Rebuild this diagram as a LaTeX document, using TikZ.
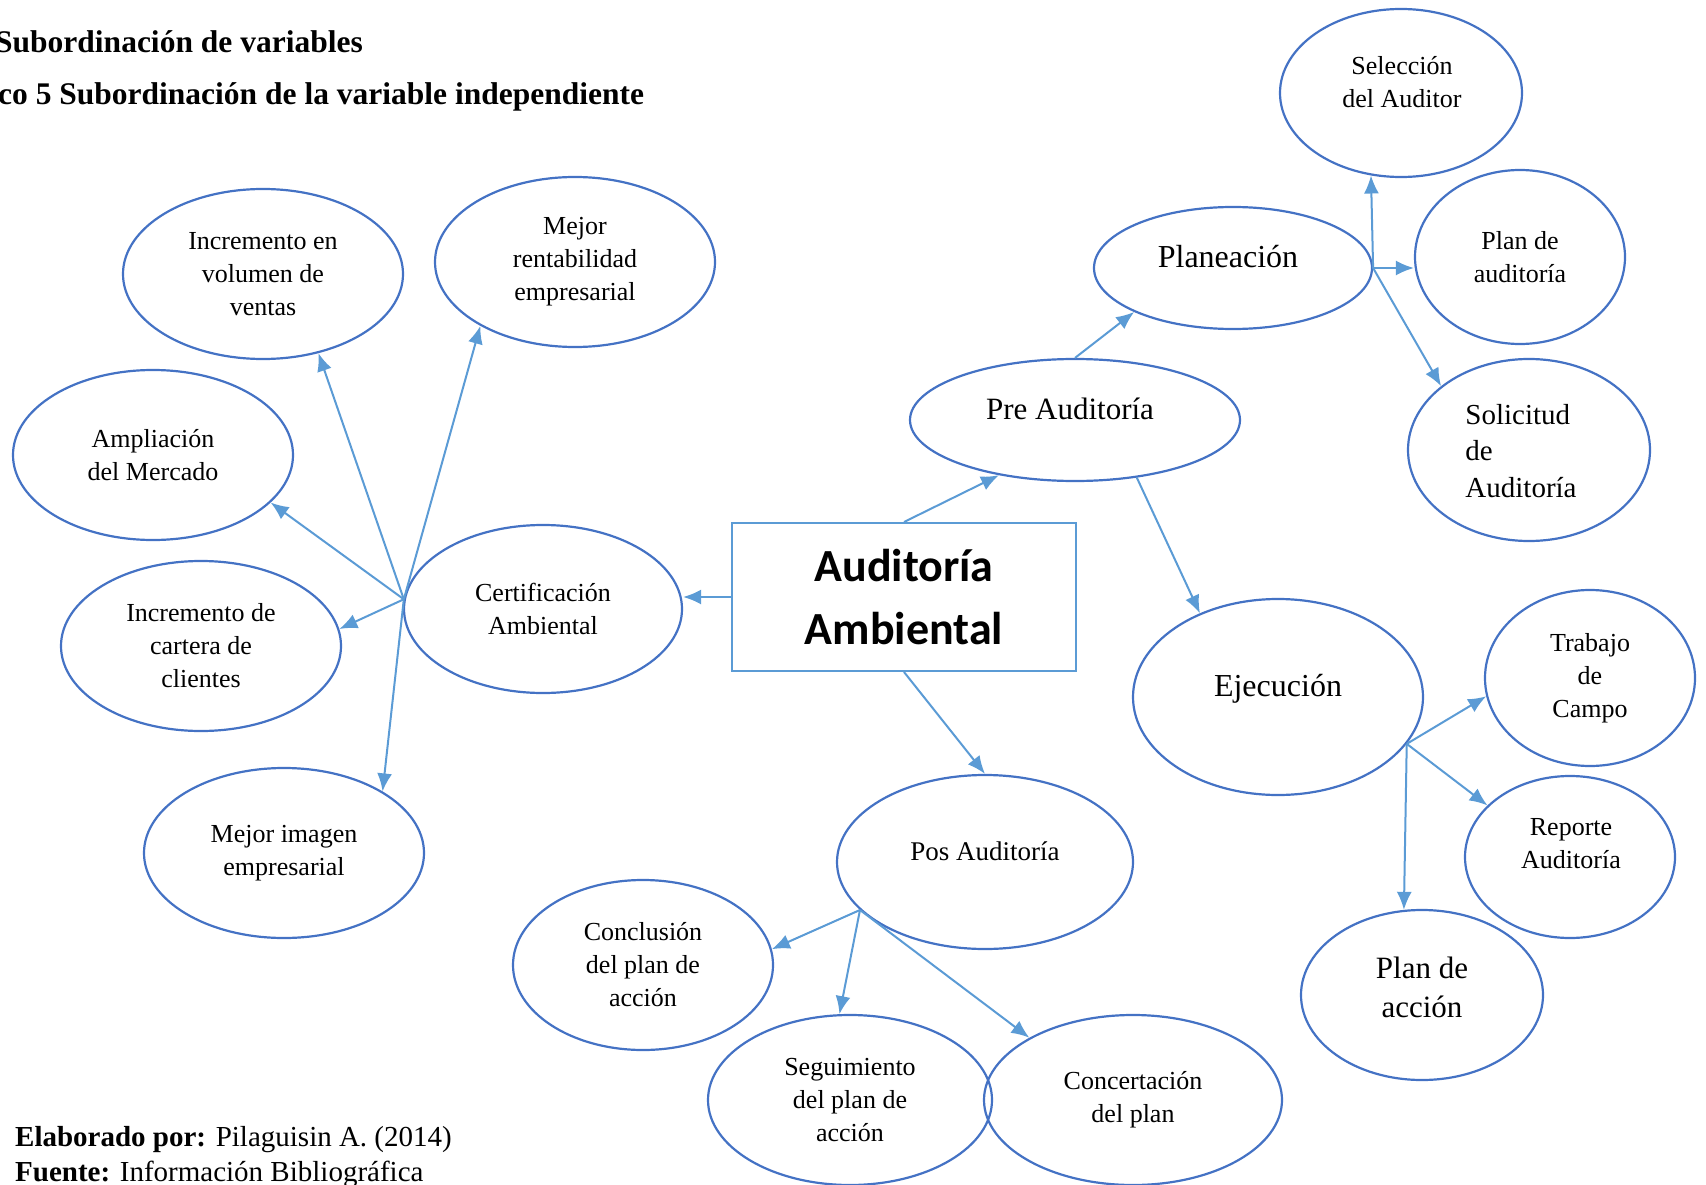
\documentclass[tikz,border=0pt]{standalone}
\usepackage{fontspec}
\setmainfont{Liberation Serif}
\newfontfamily\calfont{Carlito}
\usetikzlibrary{shapes.geometric,arrows.meta}
\definecolor{ellblue}{HTML}{4472C4}
\definecolor{arrblue}{HTML}{5B9BD5}
\begin{document}
\begin{tikzpicture}[x=1pt,y=-1pt,
  ell/.style args={#1/#2}{ellipse, draw=ellblue, line width=2.2pt, minimum width=#1pt, minimum height=#2pt, inner sep=0pt, align=center, font=\fontsize{26}{33}\selectfont},
  txt/.style={align=center, inner sep=0pt},
  big/.style={font=\fontsize{31}{39}\selectfont},
  arr/.style={draw=arrblue, line width=2pt, -{Latex[length=18pt,width=15pt]}}]
\useasboundingbox (0,0) rectangle (1706,1185);

% titles
\node[anchor=west, inner sep=0pt, font=\bfseries\fontsize{31.5}{31.5}\selectfont] (t1) at (-5,42) {Subordinación de variables};
\node[anchor=west, inner sep=0pt, font=\bfseries\fontsize{31.5}{31.5}\selectfont] (t2) at (-2,97) {co 5 Subordinación de la variable independiente};

% left cluster
\node[ell=280/170] (inc1) at (263,274) {Incremento en\\volumen de\\ventas};
\node[ell=280/170] (rent) at (575,262) {Mejor\\rentabilidad\\empresarial};
\node[ell=280/170] (amp) at (153,455) {Ampliación\\del Mercado};
\node[ell=278/168] (cert) at (543,609) {Certificación\\Ambiental};
\node[ell=280/170] (cart) at (201,646) {Incremento de\\cartera de\\clientes};
\node[ell=280/170] (imag) at (284,853) {Mejor imagen\\empresarial};

% central box
\node[draw=arrblue, line width=2pt, minimum width=344pt, minimum height=148pt, inner sep=0pt, align=center, font=\calfont\bfseries\fontsize{46}{63}\selectfont] (box) at (904,597) {Auditoría\\Ambiental};

% right side
\node[ell=330/122] (pre) at (1075,420) {};
\node[txt, big] (pret) at (1070,409) {Pre Auditoría};
\node[ell=278/122] (plan) at (1233,268) {};
\node[txt, font=\fontsize{32}{39}\selectfont] (plant) at (1228,257) {Planeación};
\node[ell=242/168] (sel) at (1401,93) {};
\node[txt, font=\fontsize{26}{33}\selectfont] (selt) at (1402,82) {Selección\\del Auditor};
\node[ell=210/174] (pda) at (1520,257) {Plan de\\auditoría};
\node[ell=242/182] (sol) at (1529,450) {};
\node[txt, align=left, font=\fontsize{29}{36.5}\selectfont] (solt) at (1521,451) {Solicitud\\de\\Auditoría};
\node[ell=290/196] (ejec) at (1278,697) {};
\node[txt, font=\fontsize{32}{39}\selectfont] (eject) at (1278,689) {Ejecución};
\node[ell=210/176] (trab) at (1590,678) {Trabajo\\de\\Campo};
\node[ell=210/162] (rep) at (1570,857) {};
\node[txt, font=\fontsize{26}{33}\selectfont] (rept) at (1571,844) {Reporte\\Auditoría};
\node[ell=242/170] (pac) at (1422,995) {};
\node[txt, big] (pact) at (1422,987) {Plan de\\acción};

% bottom
\node[ell=296/174] (pos) at (985,862) {};
\node[txt, font=\fontsize{27}{33}\selectfont] (post) at (985,851) {Pos Auditoría};
\node[ell=260/170] (conc) at (643,965) {Conclusión\\del plan de\\acción};
\node[ell=284/170] (seg) at (850,1100) {Seguimiento\\del plan de\\acción};
\node[ell=298/170] (conce) at (1133,1100) {Concertación\\del plan};

% footer
\node[anchor=west, inner sep=0pt, font=\fontsize{29}{29}\selectfont] (f1) at (15,1140) {\textbf{Elaborado por:} Pilaguisin A. (2014)};
\node[anchor=west, inner sep=0pt, font=\fontsize{29}{29}\selectfont] (f2) at (15,1174) {\textbf{Fuente:} Información Bibliográfica};

% connectors
\coordinate (hub) at (cert.176);
\draw[arr] (box.west) -- (box.west -| cert.east);
\draw[arr] (hub) -- (inc1.-55);
\draw[arr] (hub) -- (rent.214);
\draw[arr] (hub) -- (amp.-22);
\draw[arr] (hub) -- (cart.7);
\draw[arr] (hub) -- (imag.32);

\draw[arr] (box.north) -- (pre.216);
\draw[arr] (pre.north) -- (plan.204);
\draw[arr] (pre.-43) -- (ejec.133);
\draw[arr] (plan.east) -- (sel.250);
\draw[arr] (plan.east) -- (plan.east -| pda.west);
\draw[arr] (plan.east) -- (sol.144);
\draw[arr] (ejec.-20) -- (trab.190);
\draw[arr] (ejec.-20) -- (rep.148);
\draw[arr] (ejec.-20) -- (pac.102);

\draw[arr] (box.south) -- (pos.north);
\draw[arr] (pos.201) -- (conc.7);
\draw[arr] (pos.201) -- (seg.97);
\draw[arr] (pos.201) -- (conce.149);
\end{tikzpicture}
\end{document}
